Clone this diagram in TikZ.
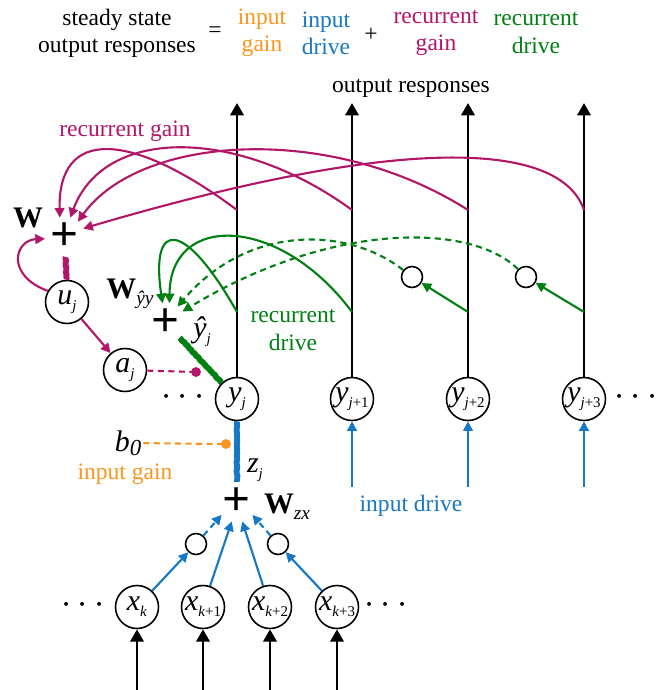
\documentclass[tikz,border=0pt]{standalone}
\usepackage{fontspec}
\setmainfont{Liberation Serif}
\usepackage{amsmath}
\usetikzlibrary{arrows.meta,decorations.pathmorphing}

\definecolor{gaincol}{RGB}{178,22,104}
\definecolor{drivecol}{RGB}{0,128,18}
\definecolor{inputcol}{RGB}{22,120,196}
\definecolor{biascol}{RGB}{250,150,30}

\newcommand{\lowsub}[1]{\raisebox{-0.45ex}{\fontsize{8.5}{8.5}\selectfont #1}}
\newcommand{\nv}[2]{\textit{#1}\lowsub{#2}}

\tikzset{
	unit/.style={circle,draw,line width=0.9pt,minimum size=0.86cm,inner sep=0pt,font=\fontsize{17}{17}\selectfont},
	hid/.style={circle,draw,line width=0.9pt,minimum size=0.42cm,inner sep=0pt},
	sum/.style={circle,minimum size=0.72cm,inner sep=0pt,font=\fontsize{28}{28}\selectfont},
	var/.style={font=\fontsize{17}{17}\selectfont,inner sep=1pt},
	lbl/.style={font=\fontsize{13.4}{15.4}\selectfont,align=center},
	dots/.style={font=\fontsize{20}{20}\selectfont},
	arr/.style={-{Triangle[length=5.5pt,width=5.5pt]}},
	bigarr/.style={-{Triangle[length=7pt,width=7.5pt]}},
	wire/.style={line width=1.2pt},
	outline/.style={line width=1.6pt},
	dashline/.style={dash pattern=on 3.5pt off 2.5pt},
	fuzz/.style={line width=3.3pt,line join=round,decorate,decoration={random steps,segment length=0.8pt,amplitude=0.3pt}},
}

\begin{document}
\begin{tikzpicture}[x=0.02cm,y=-0.02cm]
	\useasboundingbox (0,0) rectangle (666,690);
	% equation on top
	\node[lbl] (ttl) at (117,33) {steady state\\output responses};
	\node[lbl] (eq) at (215,32) {=};
	\node[lbl,text=biascol] (tgi) at (262,33) {input\\gain};
	\node[lbl,text=inputcol] (tdi) at (326,33) {input\\drive};
	\node[lbl] (pl) at (371,35) {+};
	\node[lbl,text=gaincol] (tgr) at (436,33) {recurrent\\gain};
	\node[lbl,text=drivecol] (tdr) at (536,33) {recurrent\\drive};
	\node[lbl] (tout) at (411,88) {output responses};

	% output units
	\node[unit] (y0) at (237,399) {\nv{y}{\textit{j}}};
	\node[unit] (y1) at (352,399) {\nv{y}{\textit{j}+1}};
	\node[unit] (y2) at (468,399) {\nv{y}{\textit{j}+2}};
	\node[unit] (y3) at (584,399) {\nv{y}{\textit{j}+3}};
	\node[dots] (ldy) at (186,397) {$\cdots$};
	\node[dots] (rdy) at (639,397) {$\cdots$};
	\foreach \n/\x in {0/237,1/352,2/468,3/584} {
		\coordinate (top\n) at (\x,103);
		\coordinate (rg\n) at (\x,210);
		\coordinate (rd\n) at (\x,312);
		\draw[outline,bigarr] (y\n) -- (top\n);
	}
	\foreach \n/\x in {1/352,2/468,3/584} {
		\coordinate (ind\n) at (\x,487);
		\draw[inputcol,wire,arr] (ind\n) -- (y\n);
	}
	\node[lbl,text=inputcol] (tind) at (411,506) {input drive};

	% input units
	\node[unit] (x0) at (137,607) {\nv{x}{\textit{k}}};
	\node[unit] (x1) at (203,607) {\nv{x}{\textit{k}+1}};
	\node[unit] (x2) at (270,607) {\nv{x}{\textit{k}+2}};
	\node[unit] (x3) at (337,607) {\nv{x}{\textit{k}+3}};
	\node[dots] (ldx) at (86,605) {$\cdots$};
	\node[dots] (rdx) at (389,605) {$\cdots$};
	\foreach \n/\x in {0/137,1/203,2/270,3/337} {
		\coordinate (inx\n) at (\x,690);
		\draw[outline,bigarr] (inx\n) -- (x\n);
	}
	\node[hid] (hx0) at (196,544) {};
	\node[hid] (hx1) at (278,544) {};
	\node[sum] (sx) at (237,502) {\textbf{+}};
	\node[var] (wzx) at (287,507) {\textbf{W}\lowsub{\fontsize{11}{11}\selectfont\textit{zx}}};
	\draw[inputcol,wire,arr] (x0) -- (hx0);
	\draw[inputcol,wire,arr] (x1) -- (sx.255);
	\draw[inputcol,wire,arr] (x2) -- (sx.285);
	\draw[inputcol,wire,arr] (x3) -- (hx1);
	\draw[inputcol,wire,dashline,arr] (hx0) -- (sx.220);
	\draw[inputcol,wire,dashline,arr] (hx1) -- (sx.320);
	\draw[inputcol,fuzz] (y0) -- (sx);
	\node[var] (zj) at (255,470) {\nv{z}{\textit{j}}};

	% input gain
	\node[var] (b0) at (128,443) {\textit{b}\raisebox{-0.3ex}{\fontsize{13}{13}\selectfont\textit{0}}};
	\node[lbl,text=biascol] (tig) at (125,474) {input gain};
	\coordinate (bd) at (226,444);
	\draw[biascol,wire,dashline] (b0) -- (bd);
	\fill[biascol] (bd) circle (2.8pt);

	% recurrent gain
	\node[sum] (sw) at (65,237) {\textbf{+}};
	\node[var] (w) at (28,218) {\textbf{W}};
	\node[unit] (uj) at (67,302) {\nv{u}{\textit{j}}};
	\node[unit] (aj) at (125,370) {\nv{a}{\textit{j}}};
	\node[lbl,text=gaincol] (trg) at (125,131) {recurrent gain};
	\draw[gaincol,fuzz] (sw) -- (uj);
	\draw[gaincol,wire,arr] (uj) -- (aj);
	\draw[gaincol,wire,arr] (uj.150) .. controls (5,275) and (15,240) .. (sw.185);
	\coordinate (ad) at (196,372);
	\draw[gaincol,wire,dashline] (aj) -- (ad);
	\fill[gaincol] (ad) circle (2.8pt);
	\draw[gaincol,wire,arr] (rg0) .. controls (130,130) and (58,128) .. (sw.105);
	\draw[gaincol,wire,arr] (rg1) .. controls (240,128) and (105,125) .. (sw.75);
	\draw[gaincol,wire,arr] (rg2) .. controls (330,122) and (140,135) .. (sw.50);
	\draw[gaincol,wire,arr] (rg3) .. controls (560,140) and (400,135) .. (sw.25);

	% recurrent drive
	\node[sum] (sy) at (166,323) {\textbf{+}};
	\node[var] (wyy) at (130,294) {\textbf{W}\lowsub{\fontsize{11}{11}\selectfont\textit{ŷy}}};
	\node[var] (yh) at (202,332) {\nv{ŷ}{\textit{j}}};
	\node[hid] (hy0) at (412,277) {};
	\node[hid] (hy1) at (526,277) {};
	\node[lbl,text=drivecol] (trd) at (293,330) {recurrent\\drive};
	\draw[drivecol,fuzz] (sy) -- (y0);
	\draw[drivecol,wire,arr] (rd0) .. controls (185,220) and (150,218) .. (sy.100);
	\draw[drivecol,wire,arr] (rd1) .. controls (280,215) and (170,212) .. (sy.80);
	\draw[drivecol,wire,dashline,arr] (hy0) .. controls (350,228) and (250,222) .. (sy.55);
	\draw[drivecol,wire,dashline,arr] (hy1) .. controls (470,222) and (330,222) .. (sy.35);
	\draw[drivecol,wire,arr] (rd2) -- (hy0);
	\draw[drivecol,wire,arr] (rd3) -- (hy1);
\end{tikzpicture}
\end{document}
